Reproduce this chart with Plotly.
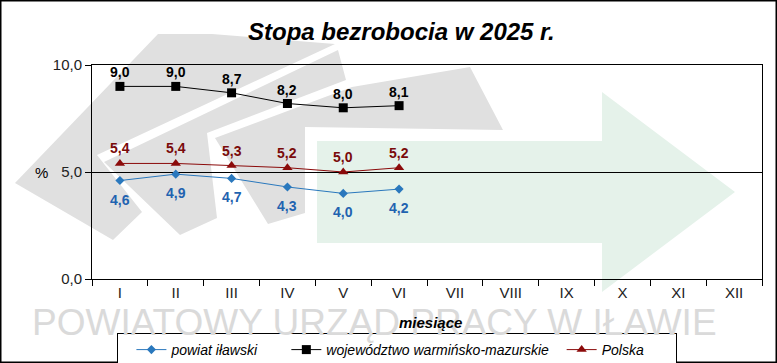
import plotly.graph_objects as go

months = ["I", "II", "III", "IV", "V", "VI", "VII", "VIII", "IX", "X", "XI", "XII"]
powiat = [4.6, 4.9, 4.7, 4.3, 4.0, 4.2]
wojewodztwo = [9.0, 9.0, 8.7, 8.2, 8.0, 8.1]
polska = [5.4, 5.4, 5.3, 5.2, 5.0, 5.2]
y_ticks = [0, 5, 10]
y_ticklabels = ["0,0", "5,0", "10,0"]

W, H = 777, 363
L, R, T, B = 92, 15, 65, 84
PW, PH = W - L - R, H - T - B
FONT = "Liberation Sans, Arial, sans-serif"
NB = "\u00a0"


def px(x):
    return (x - L) / PW


def py(y):
    return (H - B - y) / PH


def poly(points):
    return "M " + " L ".join(f"{px(x):.5f},{py(y):.5f}" for x, y in points) + " Z"


fig = go.Figure()

series = [
    ("powiat iławski" + NB * 6, powiat, "#2a78bd", "#1f63b0", "diamond", 7, -19),
    ("województwo warmińsko-mazurskie" + NB * 2, wojewodztwo, "#000000", "#000000", "square", 9, 14),
    ("Polska" + NB * 7, polska, "#8b0a0a", "#7a0a0a", "triangle-up", 9, 15),
]

labels = []
for name, vals, col, tcol, sym, msize, shift in series:
    cats = months[:len(vals)]
    fig.add_trace(go.Scatter(
        x=cats, y=vals, name=name, mode="lines+markers",
        line=dict(color=col, width=1),
        marker=dict(symbol=sym, size=msize, color=col),
        cliponaxis=False,
    ))
    for c, v in zip(cats, vals):
        labels.append(dict(
            x=c, y=v, xref="x", yref="y", text=f"<b>{v:.1f}</b>".replace(".", ","),
            showarrow=False, yshift=shift, font=dict(family=FONT, size=14, color=tcol),
        ))

# watermark logo shapes
grey = "#e0e0e0"
green = "#e5f2ea"
shapes = [
    dict(type="path", xref="paper", yref="paper", layer="below", line=dict(width=0), fillcolor=grey,
         path=poly([(15, 183), (158, 34), (212, 34), (335, 44), (97, 155), (142, 212), (113, 240)])),
    dict(type="path", xref="paper", yref="paper", layer="below", line=dict(width=0), fillcolor=grey,
         path=poly([(104, 162), (338, 50), (346, 80), (207, 133), (217, 218), (180, 235)])),
    dict(type="path", xref="paper", yref="paper", layer="below", line=dict(width=0), fillcolor=grey,
         path=poly([(215, 138), (352, 87), (470, 67), (503, 130), (305, 127), (305, 213), (268, 224)])),
    dict(type="path", xref="paper", yref="paper", layer="below", line=dict(width=0), fillcolor=green,
         path=poly([(317, 141), (602, 141), (602, 92), (735, 192), (602, 292), (602, 243), (317, 243)])),
    dict(type="rect", xref="paper", yref="paper", x0=px(0.75), x1=px(776.25), y0=py(0.75), y1=py(362.25),
         line=dict(color="black", width=1.5), layer="above"),
]

annotations = [
    dict(xref="paper", yref="paper", x=px(374), y=py(322), text="POWIATOWY URZĄD PRACY W IŁAWIE",
         showarrow=False, font=dict(family=FONT, size=37, color="#dadada"), xanchor="center", yanchor="middle"),
    dict(xref="paper", yref="paper", x=px(401), y=py(31), text="<b><i>Stopa bezrobocia w 2025 r.</i></b>",
         showarrow=False, font=dict(family=FONT, size=24, color="black"), xanchor="center", yanchor="middle"),
    dict(xref="paper", yref="paper", x=px(430), y=py(322), text="<b><i>miesiące</i></b>",
         showarrow=False, font=dict(family=FONT, size=15, color="black"), xanchor="center", yanchor="middle"),
    dict(xref="paper", yref="y", x=px(41), y=5, text="%",
         showarrow=False, font=dict(family=FONT, size=15, color="black"), xanchor="center", yanchor="middle"),
] + labels

fig.update_layout(
    width=W, height=H,
    margin=dict(l=L, r=R, t=T, b=B, autoexpand=False),
    paper_bgcolor="white",
    plot_bgcolor="rgba(0,0,0,0)",
    font=dict(family=FONT, size=15, color="black"),
    showlegend=True,
    legend=dict(
        orientation="h", x=px(117), y=py(333), xanchor="left", yanchor="top",
        bgcolor="white", bordercolor="black", borderwidth=1,
        font=dict(family=FONT, size=14, color="black", style="italic"),
        title=dict(text="\u2009", side="left"),
    ),
    shapes=shapes,
    annotations=annotations,
)

fig.update_xaxes(
    type="category", categoryorder="array", categoryarray=months,
    range=[-0.5, 11.5], tickson="boundaries", ticks="outside", ticklen=6,
    tickcolor="black", showline=True, linecolor="black", linewidth=1, mirror=True,
    showgrid=False, automargin=False, tickfont=dict(family=FONT, size=15, color="#222"),
)
fig.update_yaxes(
    range=[0, 10], tickvals=y_ticks, ticktext=y_ticklabels, ticks="outside", ticklen=6,
    tickcolor="black", showline=True, linecolor="black", linewidth=1, mirror=True,
    showgrid=True, gridcolor="black", gridwidth=1, zeroline=False, automargin=False,
    tickfont=dict(family=FONT, size=15, color="#222"),
)

fig.write_html(
    "out.html",
    config={"displayModeBar": False},
    post_script="document.body.style.margin='0';document.body.style.overflow='hidden';",
)
